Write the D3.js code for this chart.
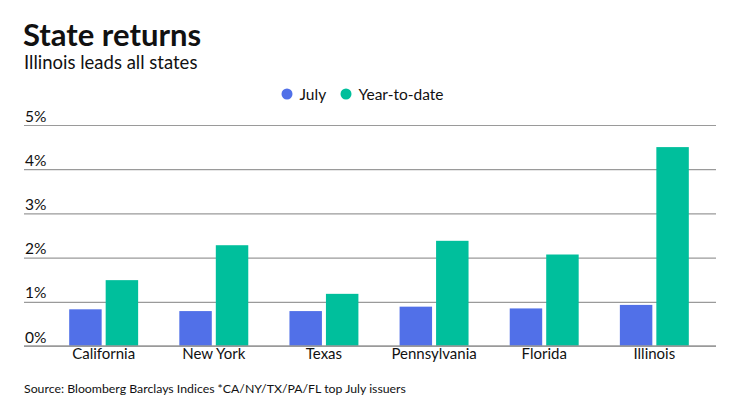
<!DOCTYPE html>
<html>
<head>
<meta charset="utf-8">
<script src="https://cdn.jsdelivr.net/npm/d3@7"></script>
<style>
  body { margin: 0; background: #fff; }
  text { font-family: Lato, "Noto Sans", sans-serif; fill: #111; }
</style>
</head>
<body>
<svg width="740" height="416"></svg>
<script>
const states = ["California", "New York", "Texas", "Pennsylvania", "Florida", "Illinois"];
const july = [0.83, 0.79, 0.79, 0.89, 0.85, 0.93];
const ytd = [1.49, 2.28, 1.18, 2.38, 2.07, 4.5];
const seriesNames = ["July", "Year-to-date"];
const yTicks = [0, 1, 2, 3, 4, 5];
const colors = ["#5170e8", "#00bf9c"];

const svg = d3.select("svg");

const rows = states.map((s, i) => ({ state: s, values: [july[i], ytd[i]] }));

const y = d3.scaleLinear().domain([0, 5]).range([346, 125]);

const x0 = d3.scaleBand()
  .domain(states)
  .range([28, 730])
  .paddingInner(0.374)
  .paddingOuter(0.374);

const x1 = d3.scaleBand()
  .domain(seriesNames)
  .range([0, x0.bandwidth()])
  .paddingInner(0.11);

// title
svg.append("text")
  .attr("x", 23).attr("y", 46)
  .style("font-size", "31px").style("font-weight", "bold")
  .text("State returns");

svg.append("text")
  .attr("x", 24).attr("y", 69)
  .style("font-size", "18.5px")
  .text("Illinois leads all states");

// gridlines + tick labels
const yAxis = d3.axisLeft(y)
  .tickValues(yTicks)
  .tickSize(692)
  .tickFormat(d => d + "%");

const axis = svg.append("g")
  .attr("transform", "translate(716, 0)")
  .call(yAxis);
axis.select(".domain").remove();
axis.selectAll("line").attr("stroke", "#9a9a9a").attr("stroke-width", 1.2);
axis.selectAll("text")
  .attr("x", -691)
  .attr("dy", -4)
  .attr("text-anchor", "start")
  .style("font-size", "15.5px")
  .style("fill", "#111");

// bars
const groups = svg.append("g")
  .selectAll("g")
  .data(rows)
  .join("g")
  .attr("transform", d => `translate(${x0(d.state)}, 0)`);

groups.selectAll("rect")
  .data(d => d.values.map((v, i) => ({ key: seriesNames[i], v: v, i: i })))
  .join("rect")
  .attr("x", d => x1(d.key))
  .attr("y", d => y(d.v))
  .attr("width", x1.bandwidth())
  .attr("height", d => y(0) - y(d.v))
  .attr("fill", d => colors[d.i]);

// baseline
svg.append("line")
  .attr("x1", 24).attr("x2", 716)
  .attr("y1", y(0)).attr("y2", y(0))
  .attr("stroke", "#9a9a9a").attr("stroke-width", 1.5);

// category labels
const xAxis = d3.axisBottom(x0).tickSize(0);
const xg = svg.append("g")
  .attr("transform", `translate(0, ${y(0)})`)
  .call(xAxis);
xg.select(".domain").remove();
xg.selectAll("text")
  .attr("dy", 0)
  .attr("y", 13)
  .style("font-size", "15px")
  .style("fill", "#111");

// legend
const legendX = [287, 346];
const legend = svg.append("g")
  .selectAll("g")
  .data(seriesNames)
  .join("g")
  .attr("transform", (d, i) => `translate(${legendX[i]}, 94)`);

legend.append("circle")
  .attr("r", 5.5)
  .attr("fill", (d, i) => colors[i]);

legend.append("text")
  .attr("x", 12.5)
  .attr("y", 5.5)
  .style("font-size", "15.5px")
  .text(d => d);

// source
svg.append("text")
  .attr("x", 24).attr("y", 393)
  .style("font-size", "12.3px")
  .text("Source: Bloomberg Barclays Indices *CA/NY/TX/PA/FL top July issuers");
</script>
</body>
</html>
